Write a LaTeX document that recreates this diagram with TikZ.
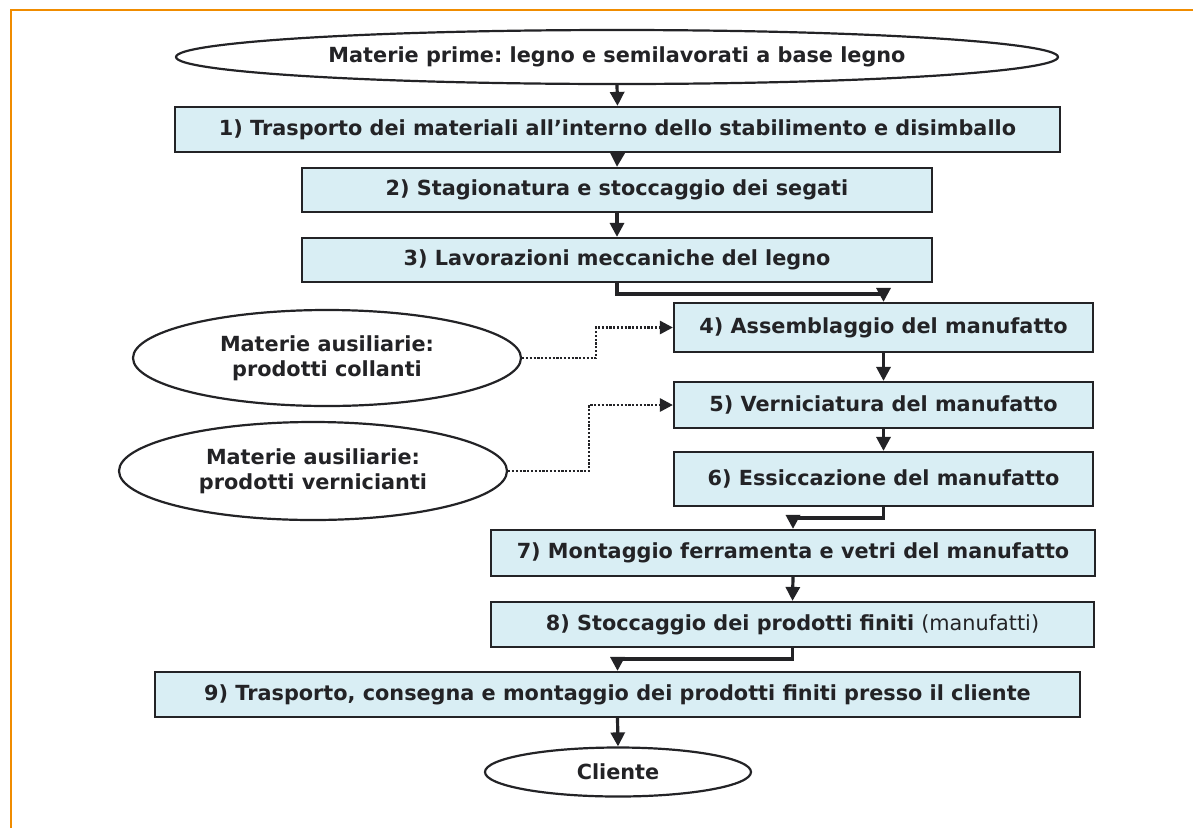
\documentclass[tikz,border=0pt]{standalone}
\usepackage{fontspec}
\setmainfont{DejaVu Sans}
\frenchspacing
\usetikzlibrary{shapes.geometric,arrows.meta}
\definecolor{boxfill}{RGB}{217,238,244}
\definecolor{ink}{RGB}{35,35,38}
\definecolor{frameorange}{RGB}{240,140,0}
\begin{document}
\frenchspacing
\begin{tikzpicture}[x=1pt,y=-1pt,
  lbl/.style={text=ink, font=\bfseries\fontsize{20.8}{25}\selectfont},
  stepbox/.style={lbl, draw=ink, line width=2.2pt, fill=boxfill, inner sep=0pt},
  oval/.style={lbl, ellipse, draw=ink, line width=2.2pt, fill=white, inner sep=0pt, align=center},
  arr/.style={draw=ink, line width=3.2pt, -{Triangle[length=14pt,width=14pt]}},
  dotarr/.style={draw=ink, line width=2.8pt, dash pattern=on 2.2pt off 1.6pt, -{Triangle[length=13pt,width=13pt]}}]
\useasboundingbox[fill=white] (0,0) rectangle (1193,828);
\draw[frameorange, line width=2.2pt] (11,828) -- (11,10) -- (1193,10);

\node[oval, minimum width=882pt, minimum height=54pt] (raw) at (617,57) {Materie prime: legno e semilavorati a base legno};
\node[stepbox, minimum width=885pt, minimum height=45pt] (b1) at (617.5,129.5) {1) Trasporto dei materiali all’interno dello stabilimento e disimballo};
\node[stepbox, minimum width=630pt, minimum height=44pt] (b2) at (617,190) {2) Stagionatura e stoccaggio dei segati};
\node[stepbox, minimum width=630pt, minimum height=44pt] (b3) at (617,260) {3) Lavorazioni meccaniche del legno};
\node[stepbox, minimum width=419pt, minimum height=49pt] (b4) at (883.5,327.5) {4) Assemblaggio del manufatto};
\node[stepbox, minimum width=419pt, minimum height=46pt] (b5) at (883.5,405) {5) Verniciatura del manufatto};
\node[stepbox, minimum width=419pt, minimum height=54pt] (b6) at (883.5,479) {6) Essiccazione del manufatto};
\node[stepbox, minimum width=604pt, minimum height=46pt] (b7) at (793,553) {7) Montaggio ferramenta e vetri del manufatto};
\node[stepbox, minimum width=603pt, minimum height=45pt] (b8) at (792.5,624.5) {8) Stoccaggio dei prodotti finiti \mdseries(manufatti)};
\node[stepbox, minimum width=925pt, minimum height=45pt] (b9) at (617.5,694.5) {9) Trasporto, consegna e montaggio dei prodotti finiti presso il cliente};
\node[oval, minimum width=388pt, minimum height=96pt] (e1) at (327,358) {Materie ausiliarie:\\prodotti collanti};
\node[oval, minimum width=388pt, minimum height=98pt] (e2) at (313,471) {Materie ausiliarie:\\prodotti vernicianti};
\node[oval, minimum width=266pt, minimum height=49pt] (cli) at (618,772) {Cliente};

\coordinate (k34) at (750,294);
\coordinate (k67) at (840,518);
\coordinate (k89) at (700,659);
\coordinate (d1) at (596,327.5);
\coordinate (d2) at (589,405);

\draw[arr] (raw.south) -- (b1.north);
\draw[arr] (b1.south) -- (b2.north);
\draw[arr] (b2.south) -- (b3.north);
\draw[arr] (b3.south) |- (k34) -| (b4.north);
\draw[arr] (b4.south) -- (b5.north);
\draw[arr] (b5.south) -- (b6.north);
\draw[arr] (b6.south) |- (k67) -| (b7.north);
\draw[arr] (b7.south) -- (b8.north);
\draw[arr] (b8.south) |- (k89) -| (b9.north);
\draw[arr] (b9.south) -- (cli.north);
\draw[dotarr] (e1.east) -| (d1) -- (b4.west);
\draw[dotarr] (e2.east) -| (d2) -- (b5.west);
\end{tikzpicture}
\end{document}
